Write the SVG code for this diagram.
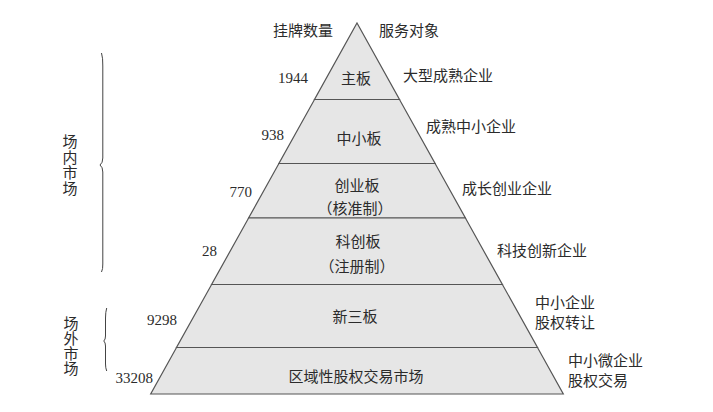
<svg xmlns="http://www.w3.org/2000/svg" width="713" height="412" viewBox="0 0 713 412">
  <style>
    .layer { fill: #e6e6e6; stroke: #555555; stroke-width: 1.2; stroke-linejoin: miter; }
    .cjk { font-family: "Noto Sans CJK SC", "Liberation Serif", serif; font-size: 15px; fill: #2b2b2b; }
    .num { font-family: "Liberation Serif", serif; font-size: 15px; fill: #2b2b2b; text-anchor: end; }
    .mid { text-anchor: middle; }
    .vert { writing-mode: vertical-rl; text-anchor: start; }
    .brace { fill: none; stroke: #444444; stroke-width: 1; }
  </style>
  <rect width="713" height="412" fill="#ffffff"/>

  <g id="headers">
    <text class="cjk" x="273" y="35.5">挂牌数量</text>
    <text class="cjk" x="379" y="35.5">服务对象</text>
  </g>

  <g id="main-board">
    <polygon class="layer" points="357,23 399.5,99.5 314.5,99.5"/>
    <text class="cjk mid" x="356" y="83.5">主板</text>
    <text class="num" x="308" y="83">1944</text>
    <text class="cjk" x="403" y="80.5">大型成熟企业</text>
  </g>

  <g id="sme-board">
    <polygon class="layer" points="314.5,99.5 399.5,99.5 435.1,163.5 278.9,163.5"/>
    <text class="cjk mid" x="359" y="143.5">中小板</text>
    <text class="num" x="284" y="140">938</text>
    <text class="cjk" x="426" y="131.5">成熟中小企业</text>
  </g>

  <g id="chinext">
    <polygon class="layer" points="278.9,163.5 435.1,163.5 465.4,218 248.6,218"/>
    <text class="cjk mid" x="357" y="190.5">创业板</text>
    <text class="cjk mid" x="355" y="214">（核准制）</text>
    <text class="num" x="252" y="197">770</text>
    <text class="cjk" x="462" y="194">成长创业企业</text>
  </g>

  <g id="star-market">
    <polygon class="layer" points="248.6,218 465.4,218 502.4,284.5 211.6,284.5"/>
    <text class="cjk mid" x="358" y="246.5">科创板</text>
    <text class="cjk mid" x="357" y="271.5">（注册制）</text>
    <text class="num" x="217" y="256">28</text>
    <text class="cjk" x="497" y="255.5">科技创新企业</text>
  </g>

  <g id="neeq">
    <polygon class="layer" points="211.6,284.5 502.4,284.5 537.5,347.5 176.5,347.5"/>
    <text class="cjk mid" x="355" y="321.5">新三板</text>
    <text class="num" x="177" y="324.5">9298</text>
    <text class="cjk" x="535" y="307.5">中小企业</text>
    <text class="cjk" x="535" y="327.5">股权转让</text>
  </g>

  <g id="regional-market">
    <polygon class="layer" points="176.5,347.5 537.5,347.5 563.3,394 150.7,394"/>
    <text class="cjk mid" x="356" y="382">区域性股权交易市场</text>
    <text class="num" x="153" y="383">33208</text>
    <text class="cjk" x="568" y="366">中小微企业</text>
    <text class="cjk" x="568" y="386">股权交易</text>
  </g>

  <g id="connectors">
    <path class="brace" d="M101.5,53 Q103,58 102.8,66 L102.8,158 Q102.8,163 100,165 Q102.8,167 102.8,172 L102.8,264 Q103,269 101.5,272"/>
    <path class="brace" d="M106.7,308 Q105.5,312 105.5,318 L105.5,336 Q105.5,339.5 103.8,341 Q105.5,342.5 105.5,346 L105.5,364 Q105.5,368 106.7,371"/>
  </g>

  <g id="exchange-label">
    <text class="cjk vert" x="70" y="134" letter-spacing="0.5">场内市场</text>
  </g>
  <g id="otc-label">
    <text class="cjk vert" x="71" y="316">场外市场</text>
  </g>
</svg>
